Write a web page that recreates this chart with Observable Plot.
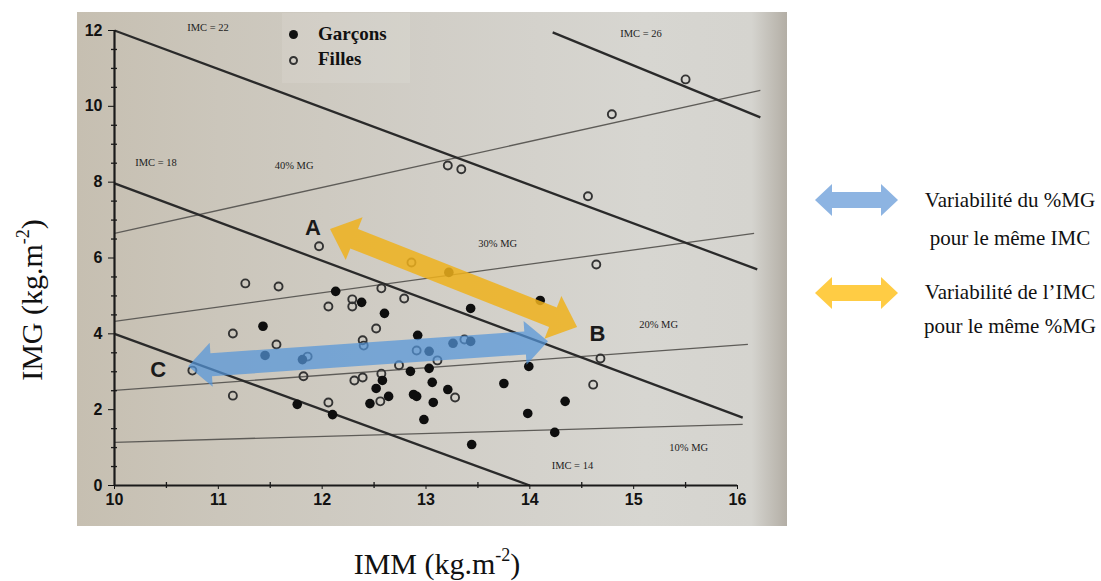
<!DOCTYPE html>
<html><head><meta charset="utf-8">
<script src="https://cdn.jsdelivr.net/npm/d3@7"></script>
<script src="https://cdn.jsdelivr.net/npm/@observablehq/plot@0.6"></script>
<style>
body{margin:0;background:#fff;width:1101px;height:581px;position:relative;overflow:hidden;font-family:"Liberation Serif","Times New Roman",serif;color:#111;}
#photo{position:absolute;left:77px;top:12px;width:710px;height:514px;
 background:linear-gradient(to right,#c6bfb1 0%,#cbc6bb 20%,#d1cec7 50%,#d7d6d1 80%,#d5d4cf 95%,#b3aea5 100%);}
#chart{position:absolute;left:77px;top:12px;}
.lg{position:absolute;font-weight:bold;font-size:19px;font-family:"Liberation Serif",serif;color:#111;}
.ldot{position:absolute;width:9px;height:9px;border-radius:50%;box-sizing:border-box;}
#legbox{position:absolute;left:282px;top:13px;width:128px;height:70px;background:rgba(255,255,255,0.10);}
.ytitle{position:absolute;left:32px;top:300px;transform:translate(-50%,-50%) rotate(-90deg);font-size:30px;white-space:nowrap;}
.xtitle{position:absolute;left:437px;top:564px;transform:translate(-50%,-50%);font-size:30px;white-space:nowrap;}
.rt{position:absolute;font-size:21px;white-space:nowrap;transform:translate(-50%,-50%);}
sup{font-size:0.6em;vertical-align:0.75em;line-height:0;}
</style></head>
<body>
<div id="photo"></div>
<div id="legbox"></div>
<div id="chart"></div>
<div class="ldot" style="left:289px;top:30px;background:#111;"></div>
<div class="ldot" style="left:289px;top:56px;border:2px solid #333;"></div>
<div class="lg" style="left:318px;top:23px;">Garçons</div>
<div class="lg" style="left:318px;top:48px;">Filles</div>
<div class="ytitle">IMG (kg.m<sup>-2</sup>)</div>
<div class="xtitle">IMM (kg.m<sup>-2</sup>)</div>
<svg id="rleg" width="100" height="140" style="position:absolute;left:805px;top:175px;"></svg>
<div class="rt" style="left:1010px;top:200px;">Variabilité du %MG</div>
<div class="rt" style="left:1010px;top:238px;">pour le même IMC</div>
<div class="rt" style="left:1010px;top:292px;">Variabilité de l’IMC</div>
<div class="rt" style="left:1010px;top:326px;">pour le même %MG</div>
<script>
// ---- data ----
const xTicks = [10, 11, 12, 13, 14, 15, 16];
const yTicks = [0, 2, 4, 6, 8, 10, 12];
const xMinor = [10.5, 11.5, 12.5, 13.5, 14.5, 15.5];
const yMinor = [0.5, 1, 1.5, 2.5, 3, 3.5, 4.5, 5, 5.5, 6.5, 7, 7.5, 8.5, 9, 9.5, 10.5, 11, 11.5];

const garconsX = [12.13, 11.43, 12.38, 11.45, 11.76, 12.10, 12.52, 12.58, 12.46, 12.60, 12.92, 12.85, 12.88, 12.64, 12.98, 13.43, 14.10, 13.22, 13.03, 13.03, 13.06, 13.21, 12.91, 13.07, 13.75, 13.99, 13.98, 14.34, 14.24, 13.44, 13.26, 13.43, 11.81];
const garconsY = [5.12, 4.20, 4.83, 3.43, 2.14, 1.87, 2.56, 2.77, 2.16, 4.54, 3.96, 3.01, 2.40, 2.35, 1.74, 4.67, 4.88, 5.62, 3.54, 3.09, 2.72, 2.53, 2.35, 2.19, 2.69, 3.14, 1.90, 2.22, 1.40, 1.08, 3.75, 3.80, 3.32];

const fillesX = [15.50, 14.79, 13.21, 13.34, 14.56, 14.64, 14.68, 14.61, 11.97, 11.26, 11.58, 12.06, 12.29, 12.29, 12.86, 12.57, 12.79, 12.52, 11.14, 11.56, 11.86, 12.39, 12.40, 11.82, 12.31, 12.39, 11.14, 12.06, 12.74, 12.57, 12.56, 10.75, 12.91, 13.37, 13.11, 13.28];
const fillesY = [10.71, 9.79, 8.44, 8.34, 7.63, 5.83, 3.35, 2.66, 6.31, 5.33, 5.25, 4.72, 4.91, 4.72, 5.88, 5.20, 4.93, 4.14, 4.01, 3.72, 3.40, 3.83, 3.69, 2.88, 2.77, 2.85, 2.37, 2.19, 3.17, 2.95, 2.22, 3.03, 3.56, 3.85, 3.30, 2.32];

// IMC iso-lines
const imcValues = [14, 18, 22, 26];
const imcX1 = [10, 10, 10, 14.22];
const imcY1 = [4, 7.97, 12, 11.95];
const imcX2 = [14, 16.05, 16.19, 16.22];
const imcY2 = [0, 1.79, 5.70, 9.71];

// %MG iso-lines
const mgValues = [10, 20, 30, 40];
const mgX1 = [10, 10, 10, 10];
const mgY1 = [1.14, 2.51, 4.33, 6.65];
const mgX2 = [16.05, 16.10, 16.16, 16.22];
const mgY2 = [1.61, 3.72, 6.65, 10.42];

// annotations
const noteText = ["IMC = 22", "IMC = 26", "IMC = 18", "40% MG", "30% MG", "20% MG", "10% MG", "IMC = 14"];
const noteX = [10.90, 15.07, 10.40, 11.73, 13.69, 15.24, 15.53, 14.41];
const noteY = [12.07, 11.93, 8.52, 8.44, 6.39, 4.25, 1.00, 0.53];

const letterText = ["A", "B", "C"];
const letterX = [11.91, 14.65, 10.42];
const letterY = [6.78, 4.01, 3.06];

// double arrows
const yellowArrowX = [12.08, 14.46], yellowArrowY = [6.75, 4.17];
const blueArrowX = [10.715, 14.18], blueArrowY = [3.13, 3.79];

// ---- build tables ----
const garcons = garconsX.map((x, i) => ({x, y: garconsY[i]}));
const filles = fillesX.map((x, i) => ({x, y: fillesY[i]}));
const imcLines = imcValues.map((v, i) => ({v, x1: imcX1[i], y1: imcY1[i], x2: imcX2[i], y2: imcY2[i]}));
const mgLines = mgValues.map((v, i) => ({v, x1: mgX1[i], y1: mgY1[i], x2: mgX2[i], y2: mgY2[i]}));
const notes = noteText.map((t, i) => ({t, x: noteX[i], y: noteY[i]}));
const letters = letterText.map((t, i) => ({t, x: letterX[i], y: letterY[i]}));

const plot = Plot.plot({
  width: 710, height: 514,
  marginLeft: 37, marginRight: 50, marginTop: 18, marginBottom: 41,
  style: {background: "transparent", overflow: "visible", fontFamily: "'Liberation Sans', Arial, sans-serif", fontSize: "16px", fontWeight: "bold", color: "#111"},
  x: {domain: [10, 16], ticks: xTicks, tickSize: 4, tickPadding: 4, label: null, tickFormat: d => String(d)},
  y: {domain: [0, 12], ticks: yTicks, tickSize: 6, tickPadding: 6, label: null, tickFormat: d => String(d)},
  marks: [
    Plot.link(mgLines, {x1: "x1", y1: "y1", x2: "x2", y2: "y2", stroke: "#5e5c58", strokeWidth: 1.3}),
    Plot.link(imcLines, {x1: "x1", y1: "y1", x2: "x2", y2: "y2", stroke: "#2a2a2a", strokeWidth: 2.3}),
    Plot.ruleX([10], {y1: 0, y2: 12, stroke: "#1a1a1a", strokeWidth: 2.2}),
    Plot.ruleY([0], {x1: 10, x2: 16, stroke: "#1a1a1a", strokeWidth: 2.2}),
    Plot.ruleX(xMinor, {x: d => d, y1: 0, y2: 0, insetTop: -3, insetBottom: -3, stroke: "#1a1a1a", strokeWidth: 1.3}),
    Plot.ruleY(yMinor, {y: d => d, x1: 10, x2: 10, insetLeft: -3, insetRight: -3, stroke: "#1a1a1a", strokeWidth: 1.3}),
    Plot.text(notes, {x: "x", y: "y", text: "t", fontFamily: "'Liberation Serif', serif", fontSize: 10.5, fontWeight: "normal", fill: "#222"}),
    Plot.dot(filles, {x: "x", y: "y", r: 4, stroke: "#333", strokeWidth: 1.9, fill: "none"}),
    Plot.dot(garcons, {x: "x", y: "y", r: 4.8, fill: "#0e0e0e", stroke: "none"}),
    Plot.text(letters, {x: "x", y: "y", text: "t", fontFamily: "'Liberation Sans', Arial, sans-serif", fontSize: 22, fontWeight: "bold", fill: "#1a1a1a"})
  ]
});
document.getElementById("chart").appendChild(plot);

function scaleFn(s) {
  if (s && typeof s.apply === "function") return v => s.apply(v);
  const [d0, d1] = s.domain, [r0, r1] = s.range;
  return v => r0 + (v - d0) / (d1 - d0) * (r1 - r0);
}
function blockArrow(p1, p2, shaft, head, headLen) {
  const dx = p2[0] - p1[0], dy = p2[1] - p1[1], L = Math.hypot(dx, dy);
  const ux = dx / L, uy = dy / L, nx = -uy, ny = ux;
  const b1 = [p1[0] + ux * headLen, p1[1] + uy * headLen];
  const b2 = [p2[0] - ux * headLen, p2[1] - uy * headLen];
  const pt = (b, s) => [b[0] + nx * s, b[1] + ny * s];
  const pts = [p1, pt(b1, head), pt(b1, shaft), pt(b2, shaft), pt(b2, head), p2, pt(b2, -head), pt(b2, -shaft), pt(b1, -shaft), pt(b1, -head)];
  return "M" + pts.map(p => p[0].toFixed(1) + "," + p[1].toFixed(1)).join("L") + "Z";
}
const sx = scaleFn(plot.scale("x")), sy = scaleFn(plot.scale("y"));
const svg = d3.select(plot);
const g = svg.append("g");
g.append("path")
  .attr("d", blockArrow([sx(blueArrowX[0]), sy(blueArrowY[0])], [sx(blueArrowX[1]), sy(blueArrowY[1])], 11.5, 22, 23))
  .attr("fill", "#5596da").attr("fill-opacity", 0.72);
g.append("path")
  .attr("d", blockArrow([sx(yellowArrowX[0]), sy(yellowArrowY[0])], [sx(yellowArrowX[1]), sy(yellowArrowY[1])], 10.5, 23, 26))
  .attr("fill", "#eeb21c").attr("fill-opacity", 0.85);

// right-hand legend arrows
const rl = d3.select("#rleg");
rl.append("path").attr("d", blockArrow([10, 25], [93, 25], 8, 16, 17)).attr("fill", "#8db4e2");
rl.append("path").attr("d", blockArrow([10, 118], [93, 118], 8, 16, 17)).attr("fill", "#ffcc44");
</script>
</body></html>
